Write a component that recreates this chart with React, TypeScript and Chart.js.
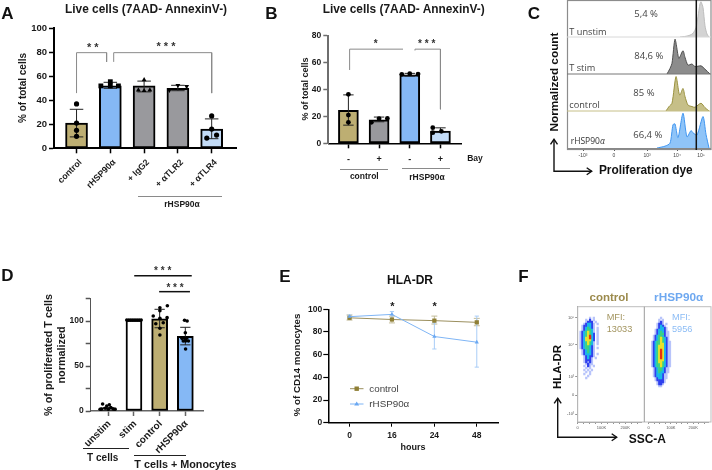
import React, { useEffect, useRef } from "react";
import Chart from "chart.js/auto";

const FONT = "'Liberation Sans', Arial, sans-serif";
const OPEN = "'Open Sans', sans-serif";
const KHAKI = "#bdae72";
const BLUE = "#85b8f5";
const LIGHTBLUE = "#c3dcf8";
const GRAY = "#99999d";

// Panel A
const aLabels = ["control", "rHSP90α", "+ IgG2", "+ αTLR2", "+ αTLR4"];
const aMeans = [21, 52, 52, 50, 16];
const aLow = [9.5, 50, 47, 48, 8];
const aHigh = [32.5, 55, 56, 52.5, 24.5];
const aColors = [KHAKI, BLUE, GRAY, GRAY, LIGHTBLUE];
const aCircleX = [0, 0, 0, 0, 4, 4, 3.855, 4.145];
const aCircleY = [37, 21, 15, 10, 27, 16, 8.5, 11];
const aSquareX = [0.72, 1, 1, 1.24];
const aSquareY = [52, 52, 55.5, 52];
const aTriX = [2, 1.83, 2, 2.17];
const aTriY = [57, 48.5, 48, 48.5];
const aInvX = [2.75, 3, 3.26];
const aInvY = [48.5, 52.5, 51.5];

// Panel B
const bLabels = ["-", "+", "-", "+"];
const bMeans = [24.5, 17.5, 51, 9];
const bLow = [13.5, 16, 50, 8];
const bHigh = [36, 19.5, 52, 11.5];
const bColors = [KHAKI, GRAY, BLUE, LIGHTBLUE];
const bPointX = [0, 0, 0, 0.75, 1, 1.27, 1.74, 2, 2.27, 2.75, 2.75, 3.03];
const bPointY = [36.4, 21, 15.6, 15.6, 18.3, 18.5, 51.3, 51.8, 51.5, 11.6, 7.9, 8.9];

// Panel C
const cTickChannels = [16, 47, 80, 110, 134];
const cTickLabels = ["-10³", "0", "10³", "10⁴", "10⁵"];
const unstimX = [113, 119, 123, 126, 129, 131, 133, 134, 136, 138, 140, 142];
const unstimY = [0, 2, 5, 10, 25, 55, 90, 95, 80, 30, 8, 0];
const stimX = [100, 103, 105, 108, 111, 112, 116, 118, 121, 125, 128, 134, 138, 143];
const stimY = [0, 15, 29, 94, 51, 42, 63, 45, 24, 27, 20, 22, 13, 0];
const ctrlX = [99, 102, 105, 109, 112, 113, 116, 118, 121, 125, 128, 134, 138, 142];
const ctrlY = [0, 12, 21, 93, 48, 43, 61, 39, 16, 12, 10, 21, 9, 0];
const hspX = [90, 98, 103, 106, 108, 111, 116, 120, 124, 126, 130, 136, 139, 142];
const hspY = [0, 5, 13, 63, 65, 28, 94, 30, 47, 41, 35, 85, 37, 0];

// Panel D
const dLabels = ["unstim", "stim", "control", "rHSP90α"];
const dMeans = [3.5, 101, 102.5, 83];
const dLow = [3.5, 101, 92.5, 73.5];
const dHigh = [3.5, 101, 113, 93];
const dColors = ["#ffffff", "#ffffff", KHAKI, BLUE];
const dPointX = [-0.22, -0.06, -0.26, -0.12, 0.04, 0.1, 0.19, 0.26, 0, -0.32,
  0.72, 0.8, 0.88, 0.96, 1.04, 1.12, 1.2, 1.28,
  1.75, 2.3, 2.01, 2.01, 2.01, 2.29, 1.85, 2.14, 2.01, 2.01,
  2.97, 3.07, 3.0, 2.87, 2.98, 3.12, 3.01, 3.05, 3.01, 2.92];
const dPointY = [7.8, 5.6, 2.2, 3, 7, 3.7, 2.2, 1.9, 1.9, 1.9,
  101, 101, 101, 101, 101, 101, 101, 101,
  105.6, 117, 114.8, 111.4, 103, 103.7, 97, 98.1, 91.9, 84.4,
  100.8, 100, 87, 80.7, 80.7, 77.8, 77.8, 80.7, 68.9, 77.8];

// Panel E
const eHours = ["0", "16", "24", "48"];
const eControl = [92.5, 91, 90, 88.5];
const eControlLow = [90.5, 88, 87, 85.5];
const eControlHigh = [95, 94, 94, 92];
const eHsp = [93.5, 95.5, 76, 71];
const eHspLow = [92, 91.5, 65, 49];
const eHspHigh = [95, 98, 88, 94];

// Panel F: density, 0-6 per cell, top row first
const fLevels = ["", "#b8c4fa", "#2f40ee", "#18b6ea", "#38d184", "#e8e22a", "#e8320f"];
const fControl = [
  "......1.1...", "....1.2.1...", "....1222.1..", "...123321.1.", "..1223321...",
  "..1234321.1.", "..1234431.1.", ".12345431.1.", ".12345432.1.", ".12345632.1.",
  ".12355632.1.", ".12355532.1.", ".12345431.1.", ".12345431.1.", ".12344321...",
  ".12344321.1.", "..1234321...", "..1234321...", "..1233321.1.", "...123221...",
  "...12321.1..", "...12221....", "...12121....", "....1211....", "...1.21.1...",
  "....1.1.....", "...1.1.1....", "....1.1.....", "...1..1.....", ".....1......",
  "....1.......",
];
const fHsp = [
  ".......1......", "......1.1.....", "......121.....", ".....1221.1...", ".....12321....",
  ".....123321...", "....1233321...", "....12343211..", "....12344211..", "...123443211..",
  "...123454321..", "...123454321..", "..12344543211.", "..12344553211.", "..12345553211.",
  "..12345553211.", "..12345653211.", "..12345653211.", "..12345653211.", "..12345653211.",
  "..12345653211.", "..12345553211.", "..12345543211.", "..12344543211.", "..12344543211.",
  "...123443211..", "...123443211..", "...123433211..", "...12333211...", "...12333211...",
  "....1233211...", "....122221....", ".....12221....", ".....1221.....", "......11......",
];
const fXTicks = [0, 25, 50, 75, 100, 125, 150, 175, 200, 225, 250];
const fYChannels = [104.3, 77, 45.3, 27, 8];
const fYLabels = ["10⁵", "10⁴", "10³", "0", "-10³"];

type Box = { l: number; t: number; r: number; b: number };
type Plot = { l: number; t: number; r: number; b: number };

const zip = (xs: number[], ys: number[]) => xs.map((x, i) => ({ x, y: ys[i] }));

function errorPath(xs: number[], low: number[], high: number[], cap: number) {
  const out: any[] = [];
  xs.forEach((x, i) => {
    out.push({ x: x - cap, y: low[i] }, { x: x + cap, y: low[i] }, { x, y: null });
    out.push({ x, y: low[i] }, { x, y: high[i] }, { x, y: null });
    out.push({ x: x - cap, y: high[i] }, { x: x + cap, y: high[i] }, { x, y: null });
  });
  return out;
}

const pathSet = (pts: number[][], color: string, w: number, order = 3) => ({
  type: "line",
  data: pts.map(([x, y]) => ({ x, y })),
  borderColor: color,
  borderWidth: w,
  pointRadius: 0,
  fill: false,
  tension: 0,
  clip: false,
  order,
});

const dots = (xs: number[], ys: number[], style: string, r: number) => ({
  type: "scatter",
  data: zip(xs, ys),
  backgroundColor: "#000",
  borderColor: "#000",
  borderWidth: 0,
  pointStyle: style,
  pointRadius: r,
  pointRotation: 0,
  clip: false,
  order: 0,
});

function layoutOf(box: Box, plot: Plot, yShown: boolean) {
  return {
    padding: {
      left: yShown ? 0 : plot.l - box.l,
      top: plot.t - box.t,
      right: box.r - plot.r,
      bottom: 0,
    },
  };
}

function fixedY(box: Box, plot: Plot) {
  return (s: any) => {
    s.width = plot.l - box.l;
  };
}
function fixedX(box: Box, plot: Plot) {
  return (s: any) => {
    s.height = box.b - plot.b;
  };
}

const tickGrid = (color: string, len = 5, w = 1.5) => ({
  display: true,
  drawOnChartArea: false,
  drawTicks: true,
  tickLength: len,
  tickColor: color,
  tickWidth: w,
  offset: false,
});

const base = (box: Box, plot: Plot, yShown: boolean): any => ({
  responsive: false,
  animation: false,
  maintainAspectRatio: false,
  layout: layoutOf(box, plot, yShown),
  plugins: { legend: { display: false }, tooltip: { enabled: false }, title: { display: false } },
  elements: { line: { tension: 0 } },
});

function barConfig(o: {
  box: Box; plot: Plot; labels: string[]; means: number[]; low: number[]; high: number[];
  colors: string[]; xMin: number; xMax: number; yMax: number; yStep: number;
  yCallback?: (v: number) => string; thick: number; cap: number; extra: any[];
  rotation: number; tickFont: any; yFont: any; pad: number; yBorder: string; xBorder: string;
  yBorderW: number; xBorderW: number; labelOffset: number;
}): any {
  const xs = o.labels.map((_, i) => i);
  const datasets: any[] = [
    {
      type: "bar",
      data: zip(xs, o.means),
      backgroundColor: o.colors,
      borderColor: "#000",
      borderWidth: 2,
      borderSkipped: false,
      barThickness: o.thick,
      order: 5,
    },
    { ...pathSet([], "#222", 1, 2), data: errorPath(xs, o.low, o.high, o.cap) },
    ...o.extra,
  ];
  return {
    type: "bar",
    data: { datasets },
    options: {
      ...base(o.box, o.plot, true),
      scales: {
        x: {
          type: "linear",
          offset: false,
          min: o.xMin,
          max: o.xMax,
          afterBuildTicks: (s: any) => {
            s.ticks = xs.map((value) => ({ value }));
          },
          afterFit: fixedX(o.box, o.plot),
          border: { color: o.xBorder, width: o.xBorderW },
          grid: tickGrid(o.xBorder),
          ticks: {
            autoSkip: false,
            minRotation: o.rotation,
            maxRotation: o.rotation,
            padding: o.pad,
            labelOffset: o.labelOffset,
            color: "#1a1a1a",
            font: o.tickFont,
            callback: (v: number) => o.labels[v],
          },
        },
        y: {
          min: 0,
          max: o.yMax,
          afterFit: fixedY(o.box, o.plot),
          border: { color: o.yBorder, width: o.yBorderW },
          grid: tickGrid(o.yBorder),
          ticks: {
            stepSize: o.yStep,
            padding: 2,
            color: "#1a1a1a",
            font: o.yFont,
            ...(o.yCallback ? { callback: o.yCallback } : {}),
          },
        },
      },
    },
  };
}

const aBox = { l: 0, t: 18, r: 240, b: 195 };
const aPlot = { l: 54, t: 28.3, r: 240, b: 148.3 };
const bBox = { l: 300, t: 25, r: 466, b: 166 };
const bPlot = { l: 328.3, t: 35.7, r: 461, b: 143.3 };
const dBox = { l: 40, t: 262, r: 212, b: 470 };
const dPlot = { l: 90.7, t: 298.5, r: 203.3, b: 411 };
const eBox = { l: 304, t: 300, r: 502, b: 442 };
const ePlot = { l: 328.3, t: 309.3, r: 499, b: 422.7 };

const aConfig = () =>
  barConfig({
    box: aBox, plot: aPlot, labels: aLabels, means: aMeans, low: aLow, high: aHigh, colors: aColors,
    xMin: -0.667, xMax: 4.72, yMax: 100, yStep: 20, thick: 22, cap: 0.2, rotation: 45, pad: 4, labelOffset: 4,
    tickFont: { family: FONT, size: 8.8, weight: 600 }, yFont: { family: FONT, size: 9.5, weight: 700 },
    yBorder: "#000", xBorder: "#000", yBorderW: 2, xBorderW: 2,
    extra: [
      dots(aCircleX, aCircleY, "circle", 2.6),
      dots(aSquareX, aSquareY, "rect", 3.4),
      dots(aTriX, aTriY, "triangle", 2.8),
      { ...dots(aInvX, aInvY, "triangle", 2.8), pointRotation: 180 },
      pathSet([[0, 46], [0, 79.7], [0.89, 79.7], [0.89, 72]], "#8a8a8a", 1),
      pathSet([[1.1, 72], [1.1, 79.7], [4, 79.7], [4, 46]], "#8a8a8a", 1),
    ],
  });

const bConfig = () =>
  barConfig({
    box: bBox, plot: bPlot, labels: bLabels, means: bMeans, low: bLow, high: bHigh, colors: bColors,
    xMin: -0.655, xMax: 3.67, yMax: 80, yStep: 20, thick: 20, cap: 0.17, rotation: 0, pad: 6, labelOffset: 0,
    tickFont: { family: FONT, size: 9, weight: 700 }, yFont: { family: FONT, size: 8.5, weight: 600 },
    yBorder: "#6e6e6e", xBorder: "#000", yBorderW: 2, xBorderW: 1.5,
    extra: [
      dots(bPointX, bPointY, "circle", 2.4),
      pathSet([[0.04, 54.5], [0.04, 70], [1.78, 70]], "#8a8a8a", 1),
      pathSet([[2.17, 69], [2.17, 70], [3, 70], [3, 25.3]], "#8a8a8a", 1),
    ],
  });

const dConfig = () =>
  barConfig({
    box: dBox, plot: dPlot, labels: dLabels, means: dMeans, low: dLow, high: dHigh, colors: dColors,
    xMin: -0.685, xMax: 3.7, yMax: 125, yStep: 25, thick: 16, cap: 0.2, rotation: 45, pad: 2, labelOffset: 1,
    tickFont: { family: FONT, size: 10, weight: 600 }, yFont: { family: FONT, size: 8.5, weight: 600 },
    yBorder: "#555", xBorder: "#666", yBorderW: 1, xBorderW: 1.5,
    yCallback: (v: number) => (v % 50 === 0 ? String(v) : ""),
    extra: [
      dots(dPointX, dPointY, "circle", 1.8),
      pathSet([[1.01, 150.3], [3.25, 150.3]], "#111", 1.5),
      pathSet([[1.98, 132.6], [3.18, 132.6]], "#111", 1.5),
    ],
  });

const eConfig = (): any => {
  const xs = eHours.map((_, i) => i);
  const ctrlColor = "#9b8f5e";
  const hspColor = "#7fb5f5";
  return {
    type: "line",
    data: {
      datasets: [
        { ...pathSet([], "#c2bb98", 1, 3), data: errorPath(xs, eControlLow, eControlHigh, 0.07) },
        { ...pathSet([], "#a9cdf7", 1, 2), data: errorPath(xs, eHspLow, eHspHigh, 0.05) },
        {
          data: zip(xs, eControl), borderColor: ctrlColor, borderWidth: 1, backgroundColor: "#8f7f35",
          pointStyle: "rect", pointRadius: 3, pointBorderWidth: 0, order: 1, clip: false,
        },
        {
          data: zip(xs, eHsp), borderColor: hspColor, borderWidth: 1, backgroundColor: "#6aa8f2",
          pointStyle: "triangle", pointRadius: 2.4, pointBorderWidth: 0, order: 0, clip: false,
        },
      ],
    },
    options: {
      ...base(eBox, ePlot, true),
      scales: {
        x: {
          type: "linear",
          offset: false,
          min: -0.5,
          max: 3.5,
          afterBuildTicks: (s: any) => {
            s.ticks = xs.map((value) => ({ value }));
          },
          afterFit: fixedX(eBox, ePlot),
          border: { color: "#000", width: 1.5 },
          grid: tickGrid("#000", 4, 1),
          ticks: {
            padding: 4, autoSkip: false, maxRotation: 0, color: "#1a1a1a",
            font: { family: FONT, size: 8.5, weight: 600 },
            callback: (v: number) => eHours[v],
          },
        },
        y: {
          min: 0,
          max: 100,
          afterFit: fixedY(eBox, ePlot),
          border: { color: "#000", width: 1.5 },
          grid: tickGrid("#000", 5, 1.2),
          ticks: {
            stepSize: 20, padding: 1, color: "#1a1a1a",
            font: { family: FONT, size: 8.5, weight: 600 },
          },
        },
      },
    },
  };
};

const histConfig = (
  xs: number[], ys: number[], fill: string, stroke: string, h: number, showAxis: boolean,
): any => {
  const box = { l: 0, t: 0, r: 144, b: h };
  const plot = { l: 0, t: 0, r: 144, b: 37 };
  return {
    type: "line",
    data: {
      datasets: [
        {
          data: zip(xs, ys), borderColor: stroke, borderWidth: 1, backgroundColor: fill,
          fill: "origin", pointRadius: 0, tension: 0.25,
        },
      ],
    },
    options: {
      ...base(box, plot, false),
      scales: {
        x: {
          type: "linear",
          min: 0,
          max: 144,
          display: showAxis,
          afterBuildTicks: (s: any) => {
            s.ticks = cTickChannels.map((value) => ({ value }));
          },
          afterFit: fixedX(box, plot),
          border: { color: "#888", width: 1 },
          grid: tickGrid("#555", 3, 1),
          ticks: {
            padding: 2, autoSkip: false, maxRotation: 0, color: "#444",
            font: { family: FONT, size: 5 },
            callback: (_v: number, i: number) => cTickLabels[i],
          },
        },
        y: { min: 0, max: 100, display: false },
      },
    },
  };
};

function densityPoints(rows: string[], colX0: number) {
  const sets: any[] = [];
  for (let lvl = 1; lvl <= 6; lvl++) {
    const xs: number[] = [];
    const ys: number[] = [];
    rows.forEach((row, r) => {
      row.split("").forEach((c, k) => {
        if (c === String(lvl)) {
          xs.push(colX0 + k * 8);
          ys.push(104 - r * 2);
        }
      });
    });
    sets.push({
      type: "scatter",
      data: zip(xs, ys),
      backgroundColor: fLevels[lvl],
      pointStyle: "rect",
      pointRadius: 1.6,
      pointBorderWidth: 0,
      order: 7 - lvl,
    });
  }
  return sets;
}

const fLeftBox = { l: 560, t: 300, r: 645, b: 434 };
const fLeftPlot = { l: 577.7, t: 306.7, r: 644.3, b: 422 };
const fRightBox = { l: 640, t: 300, r: 712, b: 434 };
const fRightPlot = { l: 644.3, t: 306.7, r: 711, b: 422 };

const fConfig = (rows: string[], colX0: number, box: Box, plot: Plot, yAxis: boolean): any => ({
  type: "scatter",
  data: { datasets: densityPoints(rows, colX0) },
  options: {
    ...base(box, plot, yAxis),
    scales: {
      x: {
        type: "linear",
        min: 0,
        max: (plot.r - plot.l) * 4,
        afterBuildTicks: (s: any) => {
          s.ticks = fXTicks.filter((v) => v <= (plot.r - plot.l) * 4).map((value) => ({ value }));
        },
        afterFit: fixedX(box, plot),
        border: { color: "#999", width: 1 },
        grid: tickGrid("#666", 2, 0.7),
        ticks: {
          padding: 1, autoSkip: false, maxRotation: 0, color: "#555",
          font: { family: FONT, size: 4 },
          callback: (v: number) => (v === 0 ? "0" : v % 100 === 0 ? v + "K" : ""),
        },
      },
      y: {
        display: yAxis,
        min: 0,
        max: 115.3,
        afterBuildTicks: (s: any) => {
          s.ticks = fYChannels.map((value) => ({ value }));
        },
        afterFit: fixedY(box, plot),
        border: { color: "#999", width: 1 },
        grid: tickGrid("#666", 2.5, 0.7),
        ticks: {
          padding: 1, autoSkip: false, color: "#555",
          font: { family: FONT, size: 4 },
          callback: (_v: number, i: number) => fYLabels[i],
        },
      },
    },
  },
});

function Cv({ box, make }: { box: Box; make: () => any }) {
  const ref = useRef<HTMLCanvasElement>(null);
  useEffect(() => {
    const ch = new Chart(ref.current as any, make());
    return () => ch.destroy();
  }, []);
  return (
    <canvas
      ref={ref}
      width={box.r - box.l}
      height={box.b - box.t}
      style={{ position: "absolute", left: box.l, top: box.t, width: box.r - box.l, height: box.b - box.t }}
    />
  );
}

function T(p: {
  x: number; y: number; s: number; t: React.ReactNode; w?: number; c?: string; rot?: number;
  left?: boolean; f?: string;
}) {
  return (
    <div
      style={{
        position: "absolute", left: p.x, top: p.y, fontSize: p.s, fontWeight: p.w ?? 400,
        color: p.c ?? "#1a1a1a", fontFamily: p.f ?? FONT, lineHeight: 1, whiteSpace: "nowrap",
        transform: `translate(${p.left ? "0" : "-50%"},-50%) rotate(${p.rot ?? 0}deg)`,
      }}
    >
      {p.t}
    </div>
  );
}

const rows = [
  { top: 0, xs: unstimX, ys: unstimY, fill: "#d3d3d3", stroke: "#bdbdbd" },
  { top: 37, xs: stimX, ys: stimY, fill: "#8c8c8c", stroke: "#4f4f4f" },
  { top: 74, xs: ctrlX, ys: ctrlY, fill: "#c6bf88", stroke: "#9a9240" },
  { top: 111, xs: hspX, ys: hspY, fill: "#8fc4f8", stroke: "#3f95f0" },
];

function Arrow({ cx, cy, tx, ry }: { cx: number; cy: number; tx: number; ry: number }) {
  return (
    <g fill="none" stroke="#111" strokeWidth={1.4}>
      <path d={`M${cx} ${ry}L${cx} ${cy}L${tx} ${cy}`} />
      <path d={`M${cx - 3.5} ${ry + 5}L${cx} ${ry}L${cx + 3.5} ${ry + 5}`} />
      <path d={`M${tx - 5} ${cy - 3.5}L${tx} ${cy}L${tx - 5} ${cy + 3.5}`} />
    </g>
  );
}

export default function App() {
  return (
    <div style={{ position: "fixed", left: 0, top: 0, width: 712, height: 470, background: "#fff", overflow: "hidden", filter: "blur(0.35px)" }}>
      <Cv box={aBox} make={aConfig} />
      <Cv box={bBox} make={bConfig} />
      <Cv box={dBox} make={dConfig} />
      <Cv box={eBox} make={eConfig} />
      {rows.map((r, i) => (
        <Cv
          key={i}
          box={{ l: 567, t: r.top, r: 711, b: r.top + (i === 3 ? 50 : 37) }}
          make={() => histConfig(r.xs, r.ys, r.fill, r.stroke, i === 3 ? 50 : 37, i === 3)}
        />
      ))}
      <Cv box={fLeftBox} make={() => fConfig(fControl, 4, fLeftBox, fLeftPlot, true)} />
      <Cv box={fRightBox} make={() => fConfig(fHsp, 0, fRightBox, fRightPlot, false)} />

      <svg width={712} height={470} style={{ position: "absolute", left: 0, top: 0, pointerEvents: "none" }}>
        <g stroke="#8a8a8a" strokeWidth={1} fill="none">
          <line x1={138} y1={196.5} x2={222} y2={196.5} />
          <line x1={340} y1={169.5} x2={388} y2={169.5} />
          <line x1={402} y1={168.5} x2={450} y2={168.5} />
        </g>
        <g stroke="#222" strokeWidth={1}>
          <line x1={83} y1={448.5} x2={129} y2={448.5} />
          <line x1={134} y1={455.5} x2={186} y2={455.5} />
        </g>
        <rect x={567.5} y={0.5} width={143.5} height={149} fill="none" stroke="#8c8c8c" strokeWidth={1.2} />
        <line x1={567} y1={37} x2={711} y2={37} stroke="#d8d8d8" />
        <line x1={567} y1={74} x2={711} y2={74} stroke="#777" />
        <line x1={567} y1={111} x2={711} y2={111} stroke="#c6bf88" />
        <line x1={696.3} y1={0} x2={696.3} y2={150} stroke="#111" strokeWidth={1.5} />
        <Arrow cx={554} cy={171.3} tx={591.7} ry={139.3} />
        <Arrow cx={557.7} cy={437.3} tx={616.7} ry={398.3} />
        <rect x={577.7} y={306.7} width={133.3} height={115.3} fill="none" stroke="#bdbdbd" strokeWidth={1} />
        <line x1={644.3} y1={306.7} x2={644.3} y2={422} stroke="#9a9a9a" strokeWidth={1} />
        <g strokeWidth={1}>
          <line x1={350} y1={388.7} x2={363.5} y2={388.7} stroke="#9b8f5e" />
          <line x1={350} y1={404} x2={363.5} y2={404} stroke="#7fb5f5" />
        </g>
        <rect x={354.5} y={386.5} width={4.4} height={4.4} fill="#8f7f35" />
        <path d="M356.7 401.5L359.2 405.5L354.2 405.5Z" fill="#6aa8f2" />
      </svg>

      <T x={7.5} y={13} s={17} w={700} c="#111" t="A" />
      <T x={271.5} y={13} s={17} w={700} c="#111" t="B" />
      <T x={534} y={13} s={17} w={700} c="#111" t="C" />
      <T x={7.5} y={275} s={17} w={700} c="#111" t="D" />
      <T x={285} y={275.5} s={17} w={700} c="#111" t="E" />
      <T x={523.5} y={275.5} s={17} w={700} c="#111" t="F" />

      <T x={146} y={9.5} s={11.9} w={700} t="Live cells (7AAD- AnnexinV-)" />
      <T x={23} y={88} s={10} w={600} rot={-90} t="% of total cells" />
      <T x={92.7} y={47} s={11} w={700} t="* *" c="#333" />
      <T x={166} y={45.5} s={11} w={700} t="* * *" c="#333" />
      <T x={182} y={204} s={8.5} w={600} t="rHSP90α" />

      <T x={403.7} y={9.5} s={11.9} w={700} t="Live cells (7AAD- AnnexinV-)" />
      <T x={305.3} y={89} s={9} w={600} rot={-90} t="% of total cells" />
      <T x={375.7} y={44} s={10} w={700} t="*" c="#333" />
      <T x={426.7} y={44} s={10} w={700} t="* * *" c="#333" />
      <T x={475} y={158} s={8.5} w={600} t="Bay" />
      <T x={364.3} y={176} s={8.5} w={600} t="control" />
      <T x={427} y={177} s={8.5} w={600} t="rHSP90α" />

      <T x={634.3} y={13.7} s={9.5} f={OPEN} c="#444" left t="5,4 %" />
      <T x={634.3} y={55.7} s={9.5} f={OPEN} c="#444" left t="84,6 %" />
      <T x={633.3} y={92.7} s={9.5} f={OPEN} c="#444" left t="85 %" />
      <T x={633.3} y={134.7} s={9.5} f={OPEN} c="#444" left t="66,4 %" />
      <T x={569.3} y={32.3} s={9.2} f={OPEN} c="#444" left t="T unstim" />
      <T x={569.3} y={67.7} s={9.2} f={OPEN} c="#444" left t="T stim" />
      <T x={569.3} y={105.3} s={9.2} f={OPEN} c="#444" left t="control" />
      <T x={570.7} y={141.3} s={8.5} f={OPEN} c="#333" left t={<>rHSP90<i>α</i></>} />
      <T x={555} y={81.7} s={11.8} w={700} c="#111" rot={-90} t="Normalized count" />
      <T x={645.8} y={171} s={11.9} w={700} c="#111" t="Proliferation dye" />

      <T x={48.3} y={355} s={10.8} w={600} rot={-90} t="% of proliferated T cells" />
      <T x={61} y={355} s={10.8} w={600} rot={-90} t="normalized" />
      <T x={162.7} y={271} s={10} w={700} t="* * *" c="#333" />
      <T x={175} y={287.5} s={10} w={700} t="* * *" c="#333" />
      <T x={102.7} y={458} s={10} w={700} t="T cells" />
      <T x={134.3} y={464} s={10.8} w={700} left t="T cells + Monocytes" />

      <T x={410} y={280} s={12} w={700} c="#111" t="HLA-DR" />
      <T x={296.7} y={365} s={9.8} w={600} rot={-90} t="% of CD14 monocytes" />
      <T x={392.3} y={306} s={11} w={700} t="*" />
      <T x={434.7} y={306} s={11} w={700} t="*" />
      <T x={413} y={446.7} s={9} w={700} t="hours" />
      <T x={369.3} y={388.7} s={9.8} c="#444" left t="control" />
      <T x={369.3} y={404} s={9.8} c="#444" left t="rHSP90α" />

      <T x={609} y={297.5} s={11.5} w={700} c="#9b8a4c" t="control" />
      <T x={678.7} y={297.5} s={11.8} w={700} c="#6ea8f0" t="rHSP90α" />
      <T x={606.7} y={318} s={9.2} c="#a39560" left t="MFI:" />
      <T x={606.7} y={329.5} s={9.2} c="#a39560" left t="13033" />
      <T x={672} y={318} s={9.2} c="#8cbcf5" left t="MFI:" />
      <T x={672} y={329.5} s={9.2} c="#8cbcf5" left t="5956" />
      <T x={558.3} y={367.3} s={11.5} w={700} c="#111" rot={-90} t="HLA-DR" />
      <T x={647.3} y={439} s={12} w={700} c="#111" t="SSC-A" />
    </div>
  );
}
